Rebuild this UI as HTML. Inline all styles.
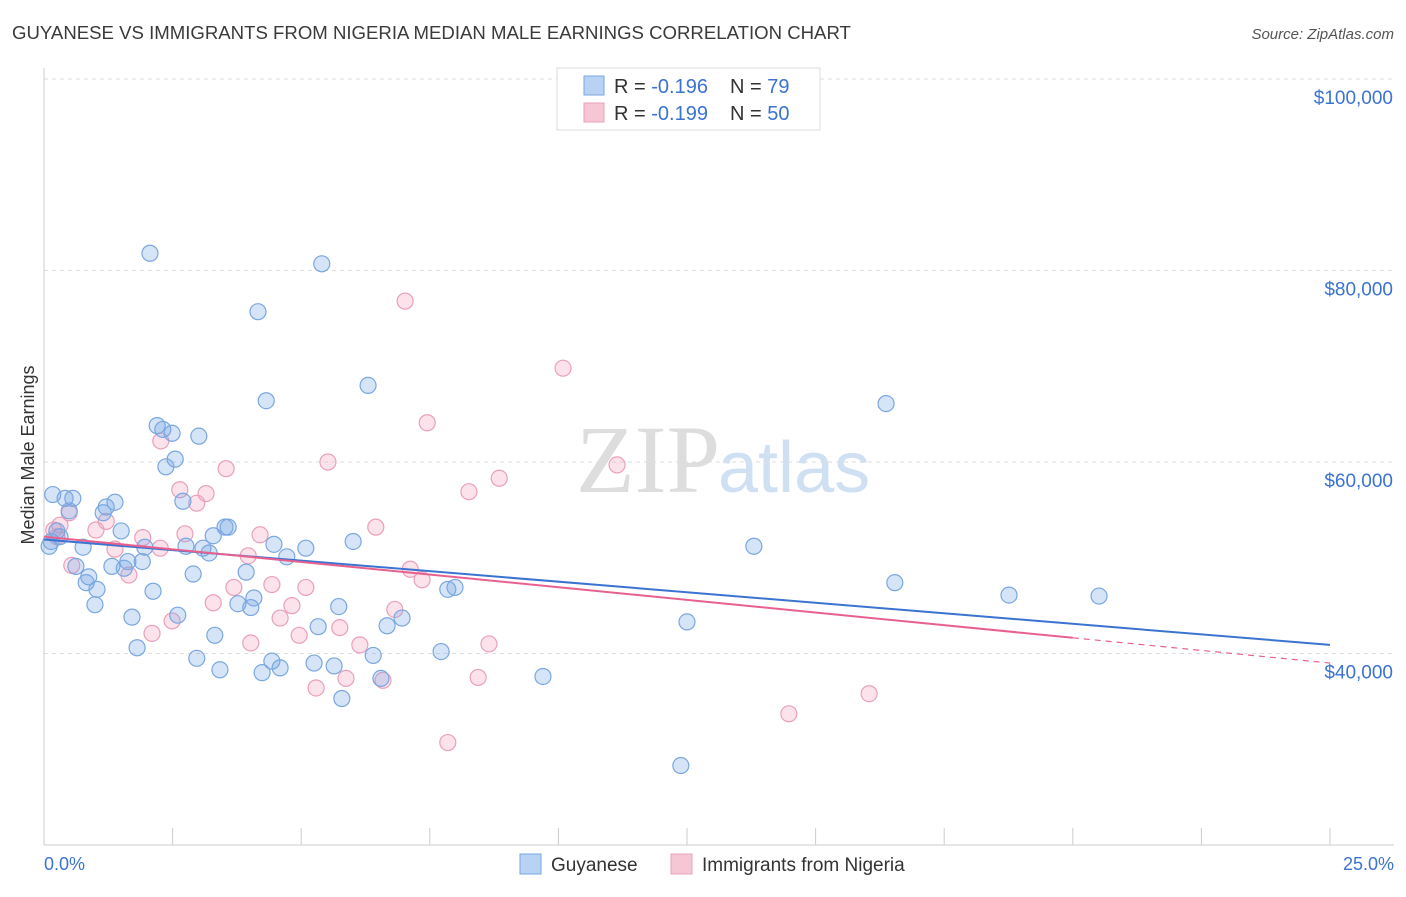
<!DOCTYPE html>
<html><head><meta charset="utf-8"><style>
body{margin:0;background:#fff;font-family:"Liberation Sans",sans-serif;}
#c{position:relative;width:1406px;height:892px;}
</style></head><body><div id="c">
<svg id="s" width="1406" height="892" xmlns="http://www.w3.org/2000/svg">
<text x="12" y="39" font-size="18.6" fill="#3a3a3a">GUYANESE VS IMMIGRANTS FROM NIGERIA MEDIAN MALE EARNINGS CORRELATION CHART</text>
<text x="1394" y="39" font-size="15" fill="#555" font-style="italic" text-anchor="end">Source: ZipAtlas.com</text>
<text transform="translate(34,455) rotate(-90)" font-size="18" fill="#333" text-anchor="middle">Median Male Earnings</text>
<text x="720" y="492" font-size="96" fill="#ddd" font-family="Liberation Serif,serif" text-anchor="end">ZIP</text>
<text x="718" y="492" font-size="72" fill="#cfe0f3">atlas</text>
<g id="grid"></g><g id="pts"></g><g id="lines"></g>
<g>
<rect x="557" y="68" width="263" height="62" fill="#fff" stroke="#ddd"/>
<rect x="584" y="76" width="20" height="19" fill="#b8d2f4" stroke="#7aa7e0"/>
<text x="614" y="93" font-size="20" fill="#333">R = <tspan fill="#3b73d1">-0.196</tspan></text>
<text x="730" y="93" font-size="20" fill="#333">N = <tspan fill="#3b73d1">79</tspan></text>
<rect x="584" y="103" width="20" height="19" fill="#f7c6d5" stroke="#eaa0bb"/>
<text x="614" y="120" font-size="20" fill="#333">R = <tspan fill="#3b73d1">-0.199</tspan></text>
<text x="730" y="120" font-size="20" fill="#333">N = <tspan fill="#3b73d1">50</tspan></text>
</g>
<rect x="520" y="854" width="21" height="20" fill="#b8d2f4" stroke="#7aa7e0"/>
<text x="551" y="871" font-size="19" fill="#333">Guyanese</text>
<rect x="671" y="854" width="21" height="20" fill="#f7c6d5" stroke="#eaa0bb"/>
<text x="702" y="871" font-size="19" fill="#333">Immigrants from Nigeria</text>
<text x="44" y="870" font-size="18" fill="#3b73d1">0.0%</text>
<text x="1394" y="870" font-size="18" fill="#3b73d1" text-anchor="end">25.0%</text>
</svg></div>
<script>
const yTicks=[40000,60000,80000,100000];
const yTickLabels=["$40,000","$60,000","$80,000","$100,000"];
const guyX=[2.06,5.40,4.16,6.30,4.32,16.37,2.20,2.31,2.49,3.01,2.55,2.37,0.17,0.41,0.56,1.38,1.21,0.49,1.15,2.70,1.50,0.25,0.31,0.14,0.10,0.76,1.96,2.76,3.09,4.47,5.09,6.01,3.58,3.52,3.29,3.21,4.72,13.80,0.62,1.32,1.63,1.91,1.56,0.87,2.90,3.93,0.82,1.03,2.12,16.54,18.76,20.51,7.85,7.99,0.99,3.77,4.02,4.08,5.73,1.71,2.60,6.96,6.67,5.33,3.32,12.50,1.81,6.40,7.72,2.97,4.43,5.25,3.42,4.24,4.59,5.64,9.70,6.55,5.79,12.38];
const guyY=[81.8,80.7,75.7,68.0,66.4,66.1,63.8,63.4,63.0,62.7,60.3,59.5,56.6,56.2,56.2,55.8,55.3,54.9,54.7,55.9,52.8,52.8,52.2,51.7,51.2,51.1,51.1,51.2,51.0,51.4,51.0,51.7,53.2,53.2,52.3,50.5,50.1,51.2,49.1,49.1,49.6,49.6,48.9,48.0,48.3,48.5,47.4,46.7,46.5,47.4,46.1,46.0,46.7,46.9,45.1,45.2,44.8,45.8,44.9,43.8,44.0,43.7,42.9,42.8,41.9,43.3,40.6,39.8,40.2,39.5,39.2,39.0,38.3,38.0,38.5,38.7,37.6,37.4,35.3,28.3];
const nigX=[7.02,10.09,7.45,2.27,5.52,11.14,3.54,8.85,8.26,2.64,3.15,2.97,0.49,1.21,0.31,6.45,1.01,2.74,4.20,0.25,1.92,1.38,2.26,3.97,0.54,7.12,1.65,7.35,4.43,5.09,3.69,3.29,4.82,6.82,4.59,2.49,5.75,2.10,4.96,6.14,8.65,4.02,5.29,5.87,6.59,8.44,16.04,14.48,7.85,0.19];
const nigY=[76.8,69.8,64.1,62.2,60.0,59.7,59.3,58.3,56.9,57.1,56.7,55.7,54.7,53.8,53.4,53.2,52.9,52.5,52.4,52.2,52.1,50.9,51.0,50.2,49.2,48.8,48.2,47.7,47.2,46.9,46.9,45.3,45.0,44.6,43.7,43.4,42.7,42.1,41.9,40.9,41.0,41.1,36.4,37.4,37.2,37.5,35.8,33.7,30.7,52.9];
const guyTrend=[51.9,40.9];
const nigTrend=[52.2,39.0];
const nigSolidEnd=20;
const X=p=>44+p*(1330-44)/25;
const Y=k=>79+(100-k)*9.575;
const NS="http://www.w3.org/2000/svg";
function mk(t,a,par){const e=document.createElementNS(NS,t);for(const k in a)e.setAttribute(k,a[k]);par.appendChild(e);return e;}
const grid=document.getElementById('grid');
yTicks.forEach((v,i)=>{const y=Y(v/1000);
const l=mk('line',{x1:44,x2:1394,y1:y,y2:y,stroke:'#ddd','stroke-dasharray':'4,4'},grid);


const t=mk('text',{x:1393,y:y+25,'font-size':19,fill:'#3b73d1','text-anchor':'end'},grid);t.textContent=yTickLabels[i];

});
const ax=mk('line',{x1:44,x2:1394,y1:845,y2:845,stroke:'#ccc'},grid);


const ay=mk('line',{x1:44,x2:44,y1:68,y2:845,stroke:'#ccc'},grid);


for(let i=1;i<=10;i++){const x=X(i*2.5);const t=mk('line',{x1:x,x2:x,y1:828,y2:845,stroke:'#ccc'},grid);

}
const pts=document.getElementById('pts');
nigX.forEach((x,i)=>{const c=mk('circle',{cx:X(x),cy:Y(nigY[i]),r:8,fill:'rgba(242,160,188,0.3)',stroke:'#eaa0bb','stroke-width':1.2},pts);

});
guyX.forEach((x,i)=>{const c=mk('circle',{cx:X(x),cy:Y(guyY[i]),r:8,fill:'rgba(120,165,230,0.3)',stroke:'#7aa7e0','stroke-width':1.2},pts);

});
const lines=document.getElementById('lines');
const bl=mk('line',{x1:X(0),y1:Y(guyTrend[0]),x2:X(25),y2:Y(guyTrend[1]),stroke:'#3b73d1','stroke-width':2},lines);


const nAt=p=>nigTrend[0]+(nigTrend[1]-nigTrend[0])*p/25;
const pl=mk('line',{x1:X(0),y1:Y(nigTrend[0]),x2:X(nigSolidEnd),y2:Y(nAt(nigSolidEnd)),stroke:'#e8608e','stroke-width':2},lines);


const pd=mk('line',{x1:X(nigSolidEnd),y1:Y(nAt(nigSolidEnd)),x2:X(25),y2:Y(nigTrend[1]),stroke:'#e8608e','stroke-width':1.2,'stroke-dasharray':'6,5'},lines);


</script></body></html>
